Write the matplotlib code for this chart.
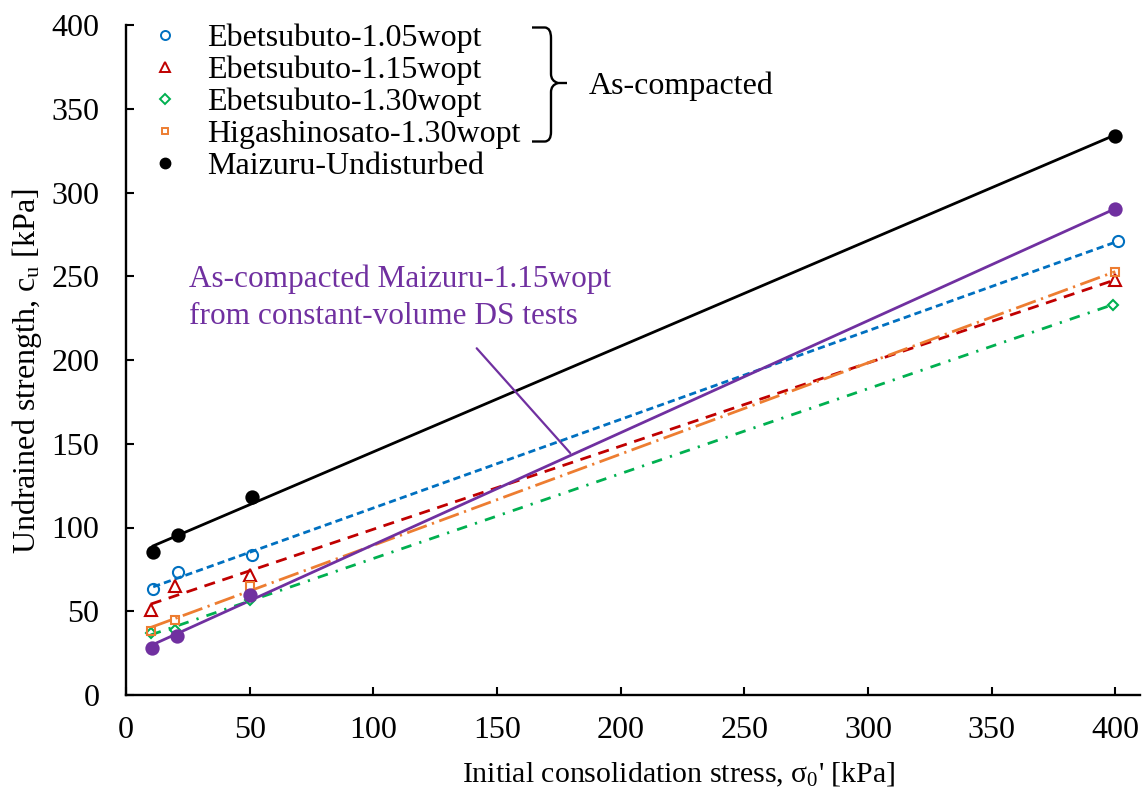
import numpy as np
import matplotlib
matplotlib.use("Agg")
import matplotlib.pyplot as plt
from matplotlib.path import Path
from matplotlib.patches import PathPatch
from matplotlib.lines import Line2D

plt.rcParams['font.family'] = ['Liberation Serif', 'DejaVu Serif']
plt.rcParams['mathtext.fontset'] = 'custom'
plt.rcParams['mathtext.rm'] = 'Liberation Serif'
plt.rcParams['mathtext.it'] = 'Liberation Serif:italic'

# ---------------- data ----------------
names = ["Ebetsubuto-1.05wopt", "Ebetsubuto-1.15wopt", "Ebetsubuto-1.30wopt",
         "Higashinosato-1.30wopt", "Maizuru-Undisturbed"]
x_e105 = [11, 21, 51, 401]
y_e105 = [63, 73.5, 83.5, 271]
x_e115 = [10, 20, 50, 400]
y_e115 = [51, 65, 71.5, 248]
x_e130 = [10, 20, 50, 399]
y_e130 = [37, 39, 57, 233]
x_hig = [10, 20, 50, 400]
y_hig = [38.5, 45, 65, 252.5]
x_mu = [11, 21, 51, 400]
y_mu = [85.5, 95.5, 118, 334]
x_mc = [10.5, 20.5, 50, 400]
y_mc = [28, 35, 60, 290]
xticks = [0, 50, 100, 150, 200, 250, 300, 350, 400]
yticks = [0, 50, 100, 150, 200, 250, 300, 350, 400]

W, H = 1143, 792
fig = plt.figure(figsize=(W / 100, H / 100), dpi=100)
ax = fig.add_axes([126 / W, 1 - 695 / H, (1140 - 126) / W, 670 / H])


def fx(px):
    return px / W


def fy(py):
    return 1 - py / H


blue = "#0070C0"
red = "#C00000"
green = "#00B050"
orange = "#ED7D31"
purple = "#7030A0"

lw = 2.0
series = [
    (x_e105, y_e105, blue, 'o', 'none', (0, (2.6, 1.5))),
    (x_e115, y_e115, red, '^', 'none', (0, (4.0, 2.8))),
    (x_e130, y_e130, green, 'D', 'none', (0, (3.8, 3.0, 0.8, 3.0))),
    (x_hig, y_hig, orange, 's', 'none', (0, (7.5, 2.0, 0.8, 2.0))),
    (x_mu, y_mu, 'black', 'o', 'black', '-'),
    (x_mc, y_mc, purple, 'o', purple, '-'),
]
msizes = {'o': 8.0, '^': 8.0, 'D': 5.5, 's': 5.8}
for xs, ys, c, m, fc, ls in series:
    xs = np.array(xs, float)
    ys = np.array(ys, float)
    k, b = np.polyfit(xs, ys, 1)
    xl = np.array([xs.min(), xs.max()])
    ax.plot(xl, k * xl + b, color=c, lw=lw, ls=ls, zorder=2)
    ms = msizes[m] + (0.8 if fc != 'none' else 0)
    ax.plot(xs, ys, ls='none', marker=m, ms=ms, mfc=fc, mec=c,
            mew=1.5, zorder=3)

ax.set_xlim(0, 410)
ax.set_ylim(0, 400)
ax.set_xticks(xticks)
ax.set_yticks(yticks)
for s in ['top', 'right']:
    ax.spines[s].set_visible(False)
for s in ['left', 'bottom']:
    ax.spines[s].set_linewidth(1.7)
ax.tick_params(direction='in', length=6, width=1.5, labelsize=23)
ax.tick_params(axis='x', pad=15)
ax.tick_params(axis='y', pad=19)

# axis labels
fig.text(fx(462), fy(782), "Initial consolidation stress, σ$_0$' [kPa]",
         fontsize=21.5, ha='left', va='baseline')
fig.text(fx(35), fy(371), "Undrained strength, c$_\\mathrm{u}$ [kPa]",
         fontsize=23, rotation=90, rotation_mode='anchor',
         ha='center', va='baseline')

# legend (drawn manually)
leg_markers = [
    dict(marker='o', ms=6.5, mfc='none', mec=blue, mew=1.4),
    dict(marker='^', ms=6.5, mfc='none', mec=red, mew=1.4),
    dict(marker='D', ms=4.6, mfc='none', mec=green, mew=1.4),
    dict(marker='s', ms=4.4, mfc='none', mec=orange, mew=1.4),
    dict(marker='o', ms=7.5, mfc='black', mec='black', mew=1.0),
]
row_base = [46, 78, 110, 142, 174]
for name, mk, yb in zip(names, leg_markers, row_base):
    fig.add_artist(Line2D([fx(165)], [fy(yb - 11)], ls='none',
                          transform=fig.transFigure, **mk))
    fig.text(fx(207), fy(yb), name, fontsize=23, ha='left', va='baseline')

# brace
verts = [
    (532, 27.5), (545, 27.5), (551, 28), (551, 38),
    (551, 74), (551, 81), (558, 83), (567, 83),
    (558, 83), (551, 85), (551, 92),
    (551, 132), (551, 141), (545, 141.5), (532, 141.5),
]
codes = [Path.MOVETO, Path.LINETO, Path.CURVE3, Path.CURVE3,
         Path.LINETO, Path.CURVE3, Path.CURVE3, Path.LINETO,
         Path.MOVETO, Path.CURVE3, Path.CURVE3,
         Path.LINETO, Path.CURVE3, Path.CURVE3, Path.LINETO]
verts = [(fx(a), fy(b)) for a, b in verts]
fig.patches.append(PathPatch(Path(verts, codes), transform=fig.transFigure,
                             fill=False, lw=1.7, color='black'))
fig.text(fx(589), fy(94), "As-compacted", fontsize=23, va='baseline', ha='left')

# annotation
fig.text(fx(189), fy(287), "As-compacted Maizuru-1.15wopt",
         fontsize=22.5, color=purple, ha='left', va='baseline')
fig.text(fx(189), fy(324), "from constant-volume DS tests",
         fontsize=22.5, color=purple, ha='left', va='baseline')
ax.annotate("", xy=(179.6, 144.5), xytext=(141.8, 207),
            arrowprops=dict(arrowstyle='-', color=purple, lw=1.6,
                            shrinkA=0, shrinkB=0))

fig.savefig("out.png", dpi=100)
